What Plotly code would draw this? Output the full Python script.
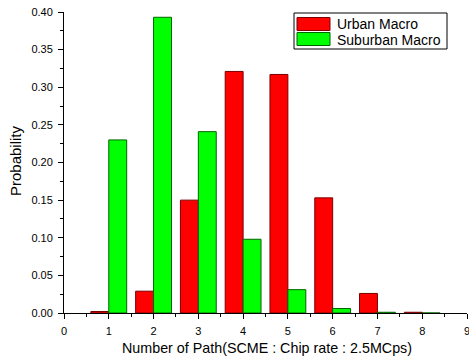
import plotly.graph_objects as go

paths = [1, 2, 3, 4, 5, 6, 7, 8]
urban_macro = [0.002, 0.029, 0.150, 0.321, 0.317, 0.153, 0.026, 0.001]
suburban_macro = [0.230, 0.393, 0.241, 0.098, 0.031, 0.006, 0.001, 0.0]
x_ticks = [0, 1, 2, 3, 4, 5, 6, 7, 8, 9]
y_ticks = [0.00, 0.05, 0.10, 0.15, 0.20, 0.25, 0.30, 0.35, 0.40]
series_names = ["Urban Macro", "Suburban Macro"]
fill_colors = ["#ff0000", "#00ff00"]
edge_colors = ["#7a0000", "#006400"]

W, H = 469, 358
ML, MR, MT, MB = 64, 2, 12, 45
PW, PH = W - ML - MR, H - MT - MB


def px(x):
    return (x - ML) / PW


def py(y):
    return (H - MB - y) / PH


fig = go.Figure()
for name, vals, fc, ec in zip(series_names, [urban_macro, suburban_macro], fill_colors, edge_colors):
    fig.add_trace(go.Bar(x=paths, y=vals, name=name,
                         marker=dict(color=fc, line=dict(color=ec, width=1))))

font = "Liberation Sans, Arial, sans-serif"

shapes = [
    dict(type="rect", xref="paper", yref="paper", x0=px(294), x1=px(447), y0=py(49), y1=py(13),
         line=dict(color="black", width=1), fillcolor="white", layer="above"),
    dict(type="rect", xref="paper", yref="paper", x0=px(297), x1=px(330), y0=py(30.5), y1=py(17.5),
         line=dict(color=edge_colors[0], width=1), fillcolor=fill_colors[0], layer="above"),
    dict(type="rect", xref="paper", yref="paper", x0=px(297), x1=px(330), y0=py(45.5), y1=py(32.5),
         line=dict(color=edge_colors[1], width=1), fillcolor=fill_colors[1], layer="above"),
]

annotations = [
    dict(text=series_names[0], xref="paper", yref="paper", x=px(335), y=py(24),
         xanchor="left", yanchor="middle", showarrow=False, font=dict(family=font, size=14)),
    dict(text=series_names[1], xref="paper", yref="paper", x=px(335), y=py(39.5),
         xanchor="left", yanchor="middle", showarrow=False, font=dict(family=font, size=14)),
    dict(text="Number of Path(SCME : Chip rate : 2.5MCps)", xref="paper", yref="paper",
         x=px(267), y=py(348), xanchor="center", yanchor="middle", showarrow=False,
         font=dict(family=font, size=14.3)),
    dict(text="Probability", xref="paper", yref="paper", textangle=-90,
         x=px(15), y=py(161), xanchor="center", yanchor="middle", showarrow=False,
         font=dict(family=font, size=15)),
]

fig.update_layout(
    width=W, height=H,
    margin=dict(l=ML, r=MR, t=MT, b=MB, autoexpand=False),
    paper_bgcolor="white", plot_bgcolor="white",
    barmode="group", bargap=0.2, bargroupgap=0,
    font=dict(family=font, size=11, color="black"),
    showlegend=False,
    shapes=shapes,
    annotations=annotations,
    xaxis=dict(range=[0, 9], tickvals=x_ticks, ticktext=[str(v) for v in x_ticks],
               showline=True, linecolor="black", linewidth=1, automargin=False,
               ticklabeloverflow="allow", ticklabelstandoff=3,
               ticks="outside", ticklen=5, tickcolor="black", showgrid=False, zeroline=False,
               minor=dict(dtick=0.5, tick0=0, ticks="outside", ticklen=3, tickcolor="black")),
    yaxis=dict(range=[0, 0.40], tickvals=y_ticks, ticktext=[f"{v:.2f}" for v in y_ticks],
               showline=True, linecolor="black", linewidth=1, automargin=False,
               ticklabeloverflow="allow", ticklabelstandoff=3,
               ticks="outside", ticklen=5, tickcolor="black", showgrid=False, zeroline=False,
               minor=dict(dtick=0.025, tick0=0, ticks="outside", ticklen=3, tickcolor="black")),
)

fig.write_html("out.html", config={"displayModeBar": False},
               post_script="document.body.style.margin='0px';document.body.style.overflow='hidden';")
